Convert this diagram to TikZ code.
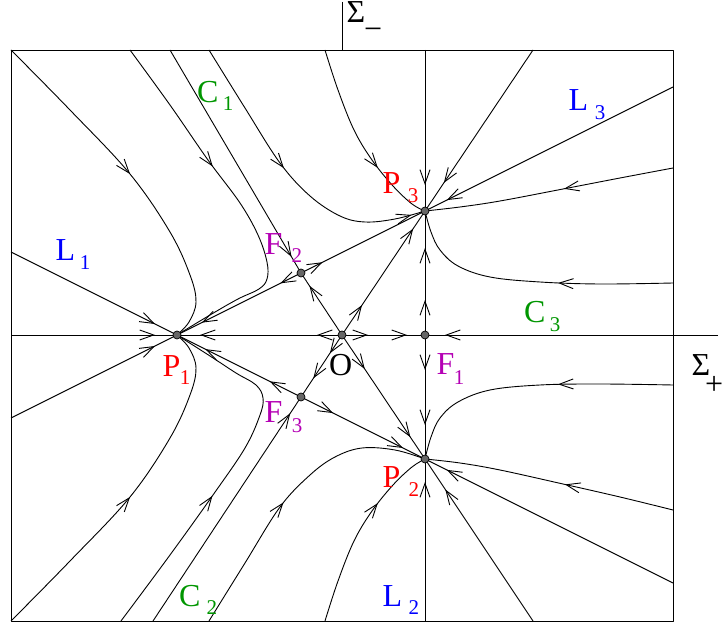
\documentclass[tikz,border=0pt]{standalone}
\usepackage{fontspec}
\setmainfont{Liberation Serif}
\usetikzlibrary{arrows.meta,decorations.markings}
\definecolor{lblue}{RGB}{0,0,255}
\definecolor{lgreen}{RGB}{0,150,0}
\definecolor{lmag}{RGB}{180,0,180}
\definecolor{lred}{RGB}{255,0,0}
\begin{document}
\begin{tikzpicture}[x=1pt,y=-1pt,
  ln/.style={line width=0.9pt,line join=round},
  ar/.style={postaction={decorate,decoration={markings,mark=at position #1 with {\arrow{Straight Barb[length=14pt,width=10pt]}}}}},
  fp/.style={circle,fill=black!60,draw=black,line width=0.7pt,inner sep=0pt,minimum size=8pt},
  labbig/.style={inner sep=0pt,anchor=base west,text height=21pt,text depth=0pt,font=\fontsize{32}{32}\selectfont},
  labsub/.style={inner sep=0pt,anchor=base west,text height=14pt,text depth=0pt,font=\fontsize{21}{21}\selectfont},
  sm/.style={smooth,tension=0.6}
]
\useasboundingbox (0,0) rectangle (724,628);
% fixed points
\coordinate (P1) at (177,335);
\coordinate (O)  at (342,335);
\coordinate (F1) at (425,335);
\coordinate (P3) at (425,211);
\coordinate (P2) at (425,459);
\coordinate (F2) at (301,273);
\coordinate (F3) at (301,397);
% frame and axes
\draw[ln] (11,50) rectangle (673,621);
\coordinate (Stop) at (342,2);
\coordinate (Sbot) at (342,50);
\draw[ln] (Stop) -- (Sbot);
\coordinate (Hl) at (11,335);
\coordinate (Hr) at (718,335);
\draw[ln,ar=144pt] (Hl) -- (P1);
\draw[ln,ar=25pt,ar=142pt] (O) -- (P1);
\draw[ln,ar=26pt,ar=65pt] (O) -- (F1);
\draw[ln,ar=273pt] (Hr) -- (F1);
\coordinate (Vt) at (425,50);
\coordinate (Vb) at (425,621);
\draw[ln,ar=135pt] (Vt) -- (P3);
\draw[ln,ar=35pt,ar=87pt] (F1) -- (P3);
\draw[ln,ar=35pt,ar=90pt] (F1) -- (P2);
\draw[ln,ar=139pt] (Vb) -- (P2);
% straight separatrices
\coordinate (L1a) at (11,252);
\coordinate (L1b) at (11,418);
\draw[ln,ar=161pt] (L1a) -- (P1);
\draw[ln,ar=161pt] (L1b) -- (P1);
\draw[ln,ar=23pt,ar=111pt] (F2) -- (P1);
\draw[ln,ar=24pt] (F2) -- (P3);
\draw[ln,ar=35pt,ar=107pt] (F3) -- (P1);
\draw[ln,ar=36pt,ar=114pt] (F3) -- (P2);
\draw[ln,ar=59pt] (O) -- (F2);
\draw[ln,ar=22pt,ar=52pt] (O) -- (F3);
\draw[ln,ar=36pt,ar=128pt] (O) -- (P3);
\draw[ln,ar=41pt,ar=123pt] (O) -- (P2);
\coordinate (E1) at (533,50);
\coordinate (E2) at (673,87);
\coordinate (E3) at (533,621);
\coordinate (E4) at (673,583);
\draw[ln,ar=160pt] (E1) -- (P3);
\draw[ln,ar=253pt] (E2) -- (P3);
\draw[ln,ar=158pt] (E3) -- (P2);
\draw[ln,ar=253pt] (E4) -- (P2);
\coordinate (S2) at (170,50);
\coordinate (S3) at (153,621);
\draw[ln,ar=240pt] (S2) -- (F2);
\draw[ln,ar=249pt] (S3) -- (F3);
% curved orbits, upper half
\draw[ln,ar=172pt] plot[sm] coordinates {(11,50) (70,110) (130,174) (170,232) (190,275) (196,302) (189,322) (P1)};
\draw[ln,ar=143pt] plot[sm] coordinates {(130,50) (170,105) (208,160) (240,203) (258,235) (267,262) (267,279) (259,289) (238,299) (210,315) (P1)};
\draw[ln,ar=140pt,ar=-14pt] plot[sm] coordinates {(209,50) (245,108) (280,163) (310,196) (340,216) (365,222) (395,219) (P3)};
\draw[ln,ar=130pt] plot[sm] coordinates {(325,50) (338,90) (354,130) (372,160) (393,186) (412,204) (P3)};
\draw[ln,ar=111pt] plot[sm] coordinates {(673,168) (620,178) (563,189) (500,201) (460,207) (P3)};
\draw[ln,ar=115pt] plot[sm] coordinates {(673,283) (600,284) (540,282) (490,277) (458,266) (440,250) (431,232) (P3)};
% curved orbits, lower half
\draw[ln,ar=172pt] plot[sm] coordinates {(11,621) (70,561) (130,497) (170,438) (190,395) (196,368) (189,348) (P1)};
\draw[ln,ar=155pt] plot[sm] coordinates {(121,621) (170,555) (213,495) (245,448) (260,415) (263,398) (256,385) (236,373) (210,356) (P1)};
\draw[ln,ar=140pt] plot[sm] coordinates {(209,621) (245,563) (280,507) (310,475) (335,457) (362,448) (395,450) (P2)};
\draw[ln,ar=130pt] plot[sm] coordinates {(325,621) (338,581) (354,541) (372,511) (393,485) (412,467) (P2)};
\draw[ln,ar=111pt] plot[sm] coordinates {(673,510) (620,497) (563,484) (500,470) (460,463) (P2)};
\draw[ln,ar=115pt] plot[sm] coordinates {(673,385) (600,384) (540,385) (490,390) (458,402) (440,418) (431,437) (P2)};
% fixed point markers
\node[fp] (mP1) at (P1) {};
\node[fp] (mO) at (O) {};
\node[fp] (mF1) at (F1) {};
\node[fp] (mP2) at (P2) {};
\node[fp] (mP3) at (P3) {};
\node[fp] (mF2) at (F2) {};
\node[fp] (mF3) at (F3) {};
% labels
\node[labbig,text=lblue] (tL1) at (55.5,261) {L};
\node[labsub,text=lblue] (tL1s) at (79.7,270) {1};
\node[labbig,text=lgreen] (tC1) at (197,102.5) {C};
\node[labsub,text=lgreen] (tC1s) at (222.7,111) {1};
\node[labbig,text=lmag] (tF2) at (264.5,255) {F};
\node[labsub,text=lmag] (tF2s) at (291.4,263) {2};
\node[labbig,text=lred] (tP3) at (382.5,194) {P};
\node[labsub,text=lred] (tP3s) at (407.7,202.5) {3};
\node[labbig,text=lblue] (tL3) at (568.5,111) {L};
\node[labsub,text=lblue] (tL3s) at (594.7,119.5) {3};
\node[labbig,text=lgreen] (tC3) at (524,322.5) {C};
\node[labsub,text=lgreen] (tC3s) at (549.7,331.5) {3};
\node[labbig,text=lmag] (tF1) at (436.5,375) {F};
\node[labsub,text=lmag] (tF1s) at (453.7,385) {1};
\node[labbig] (tO) at (329,375.5) {O};
\node[labbig,text=lred] (tP1) at (162.5,377) {P};
\node[labsub,text=lred] (tP1s) at (179.7,385) {1};
\node[labbig,text=lmag] (tF3) at (264.5,423) {F};
\node[labsub,text=lmag] (tF3s) at (291.7,432.5) {3};
\node[labbig,text=lred] (tP2) at (382.5,488) {P};
\node[labsub,text=lred] (tP2s) at (408.4,497) {2};
\node[labbig,text=lblue] (tL2) at (382.5,607) {L};
\node[labsub,text=lblue] (tL2s) at (408.4,615) {2};
\node[labbig,text=lgreen] (tC2) at (179,606.5) {C};
\node[labsub,text=lgreen] (tC2s) at (206.4,615) {2};
\node[labbig] (tSm) at (346.5,23) {Σ};
\node[labbig,text height=10pt] (tSms) at (364,40) {−};
\node[labbig] (tSp) at (691.5,376) {Σ};
\node[labbig,text height=16pt] (tSps) at (705,395) {+};
\end{tikzpicture}
\end{document}
